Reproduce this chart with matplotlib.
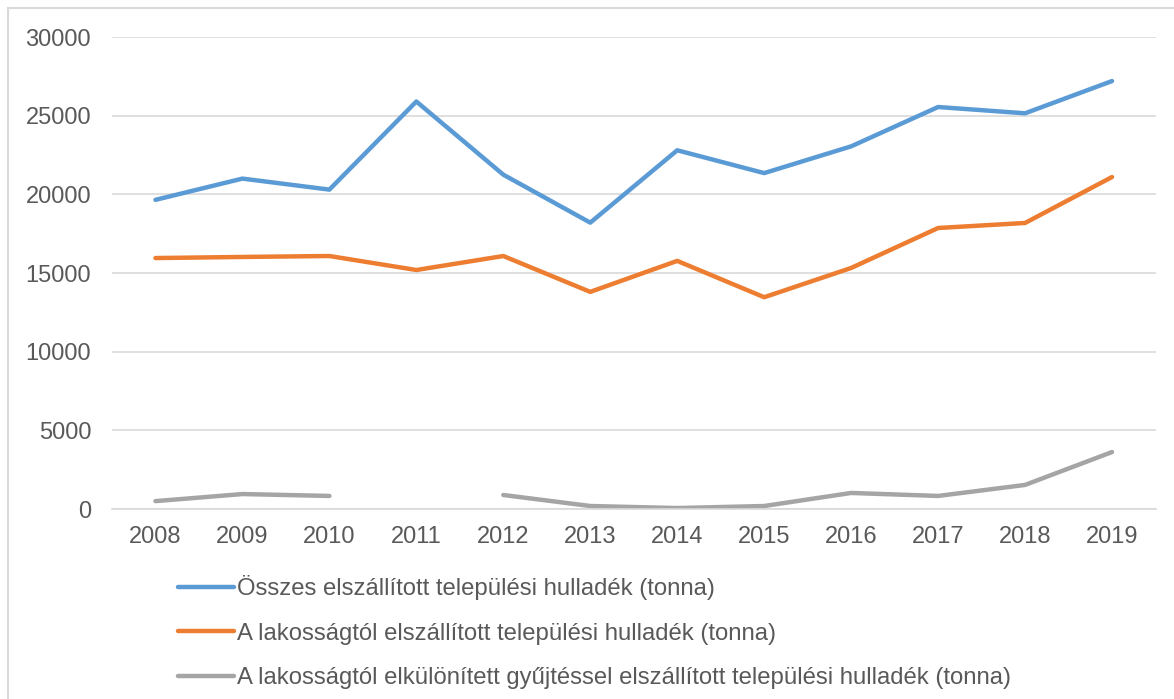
import matplotlib.pyplot as plt
import numpy as np
from matplotlib.patches import Rectangle

plt.rcParams['font.family'] = ['Liberation Sans', 'DejaVu Sans']

years = ['2008', '2009', '2010', '2011', '2012', '2013',
         '2014', '2015', '2016', '2017', '2018', '2019']
osszes = [19650, 21000, 20300, 25900, 21250, 18200,
          22800, 21350, 23050, 25550, 25150, 27200]
lakossag = [15950, 16020, 16080, 15190, 16080, 13800,
            15770, 13460, 15320, 17860, 18180, 21100]
elkulonitett = [500, 950, 830, np.nan, 890, 190,
                60, 190, 1020, 830, 1530, 3620]

labels = ['Összes elszállított települési hulladék (tonna)',
          'A lakosságtól elszállított települési hulladék (tonna)',
          'A lakosságtól elkülönített gyűjtéssel elszállított települési hulladék (tonna)']
colors = ['#5B9BD5', '#ED7D31', '#A5A5A5']
text_color = '#595959'

fig = plt.figure(figsize=(11.74, 6.99), dpi=100)
ax = fig.add_axes([112 / 1174, 1 - 509 / 699, (1155.5 - 112) / 1174, (509 - 37) / 699])

# outer chart frame like the Excel chart border
fig.patches.append(Rectangle((8 / 1174, -0.1), 1.2, 1 - 8 / 699 + 0.1,
                             transform=fig.transFigure, fill=False,
                             edgecolor='#D9D9D9', linewidth=1.5))

x = np.arange(len(years))
for series, c, lab in zip([osszes, lakossag, elkulonitett], colors, labels):
    ax.plot(x, series, color=c, linewidth=3.2, label=lab, solid_capstyle='round')

ax.set_xlim(-0.5, len(years) - 0.5)
ax.set_ylim(0, 30000)
ax.set_yticks(np.arange(0, 30001, 5000))
ax.set_xticks(x)
ax.set_xticklabels(years)

ax.grid(axis='y', color='#D9D9D9', linewidth=1.2)
ax.set_axisbelow(True)
for s in ['top', 'right', 'left']:
    ax.spines[s].set_visible(False)
ax.spines['bottom'].set_color('#D9D9D9')
ax.spines['bottom'].set_linewidth(1.2)
ax.tick_params(axis='both', length=0, labelsize=17, colors=text_color)
ax.tick_params(axis='y', pad=15)
ax.tick_params(axis='x', pad=12)

fig.legend(loc='upper left', bbox_to_anchor=(178 / 1174, 1 - 575 / 699),
           frameon=False, fontsize=17.2, labelcolor=text_color,
           handlelength=2.35, handletextpad=0.1, labelspacing=0.95,
           borderaxespad=0, borderpad=0)

fig.savefig('out.png', dpi=100)
